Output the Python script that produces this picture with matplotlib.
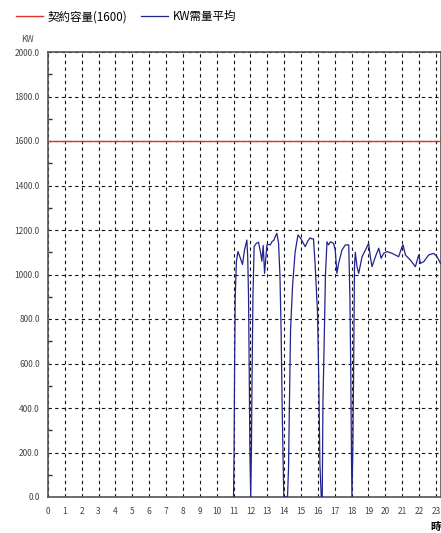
import matplotlib
matplotlib.use("Agg")
import matplotlib.pyplot as plt
from matplotlib.ticker import MultipleLocator

plt.rcParams["font.family"] = ["Noto Sans CJK TC", "DejaVu Sans"]

# ── data ─────────────────────────────────────────────────────────────────────
CONTRACT_KW = 1600
HOURS = [
    11.00, 11.03, 11.06, 11.10, 11.17, 11.26, 11.40, 11.53, 11.65, 11.79,
    11.84, 11.89, 11.93, 11.97, 12.02, 12.06, 12.10, 12.15, 12.22, 12.35,
    12.48, 12.60, 12.68, 12.76, 12.84, 12.98, 13.10, 13.18, 13.27, 13.40,
    13.47, 13.57, 13.67, 13.75, 13.82, 13.88, 13.93, 13.98, 14.05, 14.12,
    14.20, 14.26, 14.31, 14.38, 14.50, 14.65, 14.82, 15.00, 15.25, 15.40,
    15.54, 15.65, 15.74, 15.84, 15.98, 16.06, 16.12, 16.20, 16.26, 16.30,
    16.38, 16.45, 16.54, 16.63, 16.75, 16.93, 17.03, 17.13, 17.23, 17.43,
    17.63, 17.83, 17.90, 17.95, 17.99, 18.02, 18.07, 18.12, 18.17, 18.22,
    18.32, 18.42, 18.62, 18.82, 19.01, 19.11, 19.21, 19.41, 19.61, 19.75,
    19.90, 20.10, 20.40, 20.79, 20.99, 21.05, 21.19, 21.48, 21.78, 21.98,
    22.08, 22.28, 22.57, 22.87, 23.07, 23.27,
]
KW_AVG = [
    0, 190, 550, 900, 1060, 1103, 1075, 1045, 1110, 1155,
    1080, 900, 570, 200, 0, 200, 560, 900, 1125, 1140,
    1145, 1100, 1060, 1130, 1005, 1133, 1135, 1133, 1147, 1155,
    1170, 1185, 1140, 1000, 750, 420, 200, 0, 0, 0,
    0, 130, 400, 750, 950, 1100, 1178, 1160, 1125, 1150,
    1165, 1160, 1160, 1042, 826, 500, 150, 0, 0, 420,
    720, 1000, 1147, 1133, 1147, 1140, 1110, 1005, 1050, 1110,
    1133, 1133, 900, 566, 200, 0, 200, 566, 1035, 1100,
    1035, 1005, 1080, 1110, 1140, 1080, 1035, 1080, 1118, 1073,
    1095, 1103, 1095, 1080, 1125, 1133, 1088, 1065, 1035, 1088,
    1050, 1058, 1088, 1095, 1080, 1050,
]
X_TICKS = list(range(24))
Y_TICKS = list(range(0, 2001, 200))

# ── plot ─────────────────────────────────────────────────────────────────────
fig = plt.figure(figsize=(4.41, 5.33), dpi=100)
ax = fig.add_axes([48 / 441, 36 / 533, 393 / 441, 445 / 533])

ax.axhline(CONTRACT_KW, color="#e0302c", linewidth=1.0, label=f"契約容量({CONTRACT_KW})", zorder=3)
ax.plot(HOURS, KW_AVG, color="#23238e", linewidth=0.9, label="KW需量平均", zorder=4)

ax.set_xlim(0, 23.3)
ax.set_ylim(0, 2000)
ax.set_xticks(X_TICKS)
ax.set_yticks(Y_TICKS)
ax.set_yticklabels([f"{v:.1f}" for v in Y_TICKS])
ax.yaxis.set_minor_locator(MultipleLocator(100))
ax.tick_params(axis="both", which="major", length=0, labelsize=6, labelcolor="#444444", pad=7)
ax.tick_params(axis="y", which="major", pad=6)
ax.tick_params(axis="y", which="minor", direction="in", length=3, width=1, color="#333333")
ax.grid(True, which="major", color="#111111", linestyle=(0, (3, 3)), linewidth=0.8)
for side in ax.spines.values():
    side.set_color("#555555")
    side.set_linewidth(1.2)

fig.text(28 / 441, 1 - 40 / 533, "KW", fontsize=6, color="#444444", ha="center", va="center")
fig.text(430 / 441, 1 - 527 / 533, "時", fontsize=7.5, fontweight="bold", ha="left", va="center")

fig.legend(loc="upper left", bbox_to_anchor=(0.012, 1.0), ncol=2, frameon=False,
           fontsize=8.3, handlelength=2.4, handletextpad=0.35, columnspacing=1.2,
           borderaxespad=0.5, borderpad=0.4)

fig.savefig("out.png", dpi=100)
